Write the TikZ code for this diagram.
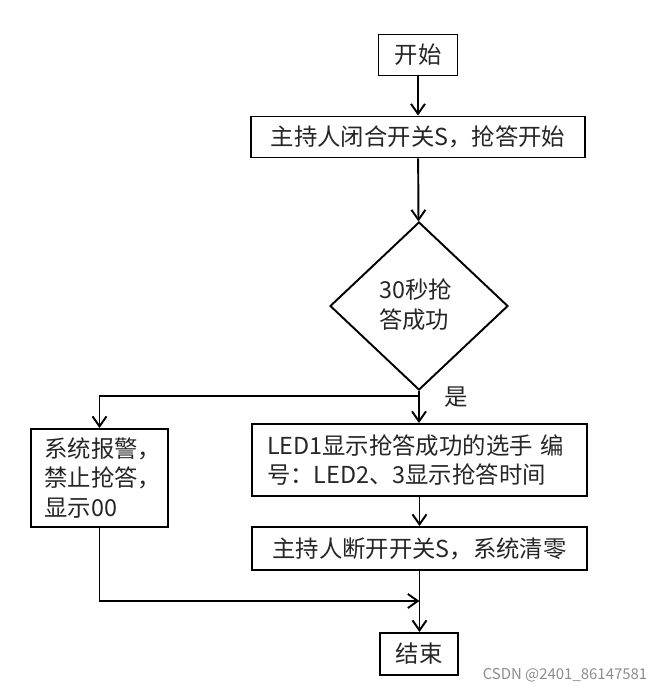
\documentclass[tikz,border=0pt]{standalone}
\usepackage{fontspec}
\setmainfont{Noto Sans CJK SC}
\usepackage{xcolor}
\usepackage{tikz}
\usetikzlibrary{positioning, shapes, shapes.geometric, arrows.meta, calc}

\begin{document}
\begin{tikzpicture}[
    stepbox/.style={rectangle, draw=black, line width=1.1pt, minimum height=0.84cm, align=center, fill=white, inner sep=2pt, text=black!85, font=\fontsize{13.3}{17}\selectfont},
    textbox/.style={stepbox, align=left, anchor=center},
    decision/.style={diamond, draw=black, line width=1.1pt, minimum width=3.56cm, minimum height=3.36cm, inner sep=0pt, align=left, font=\fontsize{13.3}{17}\selectfont},
    flow/.style={line width=1.1pt, -{Straight Barb[length=2mm, width=2.8mm, line width=1.1pt]}},
    link/.style={line width=1.1pt}
]
    \useasboundingbox (0,0) rectangle (13.04,-13.76);

    \node[stepbox, minimum width=1.58cm, minimum height=0.82cm] (start) at (8.36,-1.10) {开始};
    \node[stepbox, minimum width=6.68cm, minimum height=0.82cm] (close) at (8.36,-2.74) {主持人闭合开关S，抢答开始};
    \node[decision] (check) at (8.38,-6.12) {};
    \node[text=black!85, font=\fontsize{13.3}{17}\selectfont, align=left, anchor=west] (checktext) at (7.46,-6.10) {30秒抢\\答成功};
    \node[textbox, minimum width=2.74cm, minimum height=1.96cm, text width=2.2cm] (alarm) at (1.99,-9.56) {系统报警，\\禁止抢答，\\显示00};
    \node[textbox, minimum width=6.70cm, minimum height=1.44cm, text width=6.1cm] (show) at (8.39,-9.20) {LED1显示抢答成功的选手 编\\号：LED2、3显示抢答时间};
    \node[stepbox, minimum width=6.70cm, minimum height=0.86cm] (reset) at (8.39,-10.97) {主持人断开开关S，系统清零};
    \node[stepbox, minimum width=1.56cm, minimum height=0.84cm] (finish) at (8.38,-13.08) {结束};
    \node[text=black!85, font=\fontsize{13.3}{17}\selectfont] (yes) at (9.12,-7.94) {是};
    \node[text=black!45, font=\fontsize{8.5}{10}\selectfont] (mark) at (11.30,-13.50) {CSDN @2401\_86147581};

    % junction points
    \coordinate (split) at (check.south |- 0,-7.92);
    \coordinate (merge) at (show.south |- 0,-12.02);

    \draw[flow] (start) -- (close);
    \draw[flow] (close) -- (check);
    \draw[flow] (check.south) -- (check.south |- show.north);
    \draw[flow] (split) -| (alarm.north);
    \draw[flow] (show) -- (reset);
    \draw[flow] (reset.south) -- (reset.south |- finish.north);
    \draw[flow] (alarm.south) |- (merge);
\end{tikzpicture}
\end{document}
